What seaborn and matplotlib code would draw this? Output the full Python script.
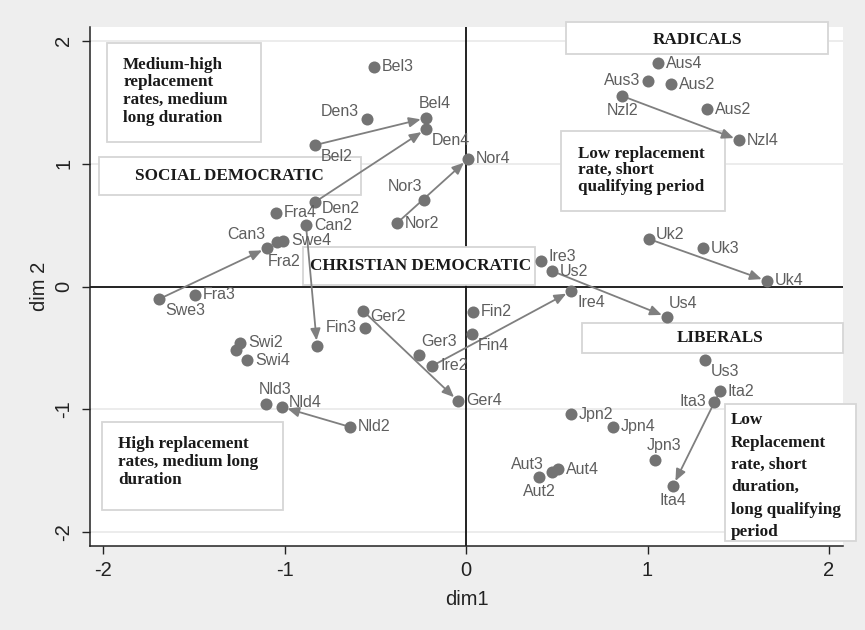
import matplotlib
matplotlib.use('Agg')
import matplotlib.pyplot as plt
from matplotlib.patches import Rectangle
import seaborn as sns
import pandas as pd

# points on the two dimensions
names = ['Bel3', 'Den3', 'Bel4', 'Den4', 'Bel2', 'Nor4', 'Nor3', 'Nor2', 'Den2', 'Fra4',
         'Can2', 'Swe4', 'Fra2', 'Can3', 'Fra3', 'Swe3', 'Ger2', 'Fin3', 'Can4', 'Swi2',
         'Swi3', 'Swi4', 'Ger3', 'Ire2', 'Ger4', 'Nld3', 'Nld4', 'Nld2', 'Ire4', 'Fin2',
         'Fin4', 'Us4', 'Us3', 'Ita2', 'Ita3', 'Ita4', 'Jpn2', 'Jpn4', 'Jpn3', 'Aut2',
         'Aut3', 'Aut4', 'Aus4', 'Aus3', 'Aus2', 'Nzl2', 'Aus2b', 'Nzl4', 'Uk2', 'Uk3',
         'Uk4', 'Ire3', 'Us2']
shown = ['Bel3', 'Den3', 'Bel4', 'Den4', 'Bel2', 'Nor4', 'Nor3', 'Nor2', 'Den2', 'Fra4',
         'Can2', 'Swe4', 'Fra2', 'Can3', 'Fra3', 'Swe3', 'Ger2', 'Fin3', '', 'Swi2',
         '', 'Swi4', 'Ger3', 'Ire2', 'Ger4', 'Nld3', 'Nld4', 'Nld2', 'Ire4', 'Fin2',
         'Fin4', 'Us4', 'Us3', 'Ita2', 'Ita3', 'Ita4', 'Jpn2', 'Jpn4', 'Jpn3', 'Aut2',
         'Aut3', 'Aut4', 'Aus4', 'Aus3', 'Aus2', 'Nzl2', 'Aus2', 'Nzl4', 'Uk2', 'Uk3',
         'Uk4', 'Ire3', 'Us2']
dim1 = [-0.507, -0.545, -0.220, -0.220, -0.832, 0.011, -0.231, -0.380, -0.832, -1.047,
        -0.882, -1.008, -1.041, -1.096, -1.493, -1.691, -0.567, -0.556, -0.821, -1.245,
        -1.267, -1.207, -0.259, -0.187, -0.044, -1.102, -1.014, -0.639, 0.579, 0.039,
        0.033, 1.107, 1.317, 1.399, 1.366, 1.140, 0.579, 0.810, 1.041, 0.402,
        0.474, 0.507, 1.058, 1.003, 1.129, 0.860, 1.328, 1.504, 1.008, 1.306,
        1.658, 0.413, 0.474]
dim2 = [1.785, 1.362, 1.370, 1.280, 1.150, 1.037, 0.703, 0.516, 0.687, 0.598,
        0.500, 0.370, 0.362, 0.313, -0.069, -0.102, -0.199, -0.337, -0.484, -0.459,
        -0.516, -0.598, -0.557, -0.646, -0.931, -0.955, -0.980, -1.142, -0.037, -0.207,
        -0.386, -0.248, -0.598, -0.850, -0.939, -1.622, -1.037, -1.142, -1.411, -1.549,
        -1.508, -1.484, 1.817, 1.671, 1.646, 1.549, 1.443, 1.191, 0.386, 0.313,
        0.045, 0.207, 0.126]
# marker label position (clock)
lab_pos = [3, 10, 12, 5, 5, 3, 11, 3, 4, 3,
           3, 3, 7, 11, 3, 5, 4, 9, 3, 3,
           3, 3, 1, 3, 3, 12, 2, 3, 5, 3,
           5, 1, 5, 3, 9, 6, 3, 3, 12, 6,
           10, 3, 3, 9, 3, 6, 3, 3, 2, 3,
           3, 2, 3]

arrow_from = ['Bel2', 'Den2', 'Nor2', 'Swe3', 'Can2', 'Ger2', 'Ire2', 'Us2', 'Uk2', 'Nzl2', 'Ita2', 'Nld2']
arrow_to = ['Bel4', 'Den4', 'Nor4', 'Can3', 'Can4', 'Ger4', 'Ire4', 'Us4', 'Uk4', 'Nzl4', 'Ita4', 'Nld4']

box_texts = ['Medium-high\nreplacement\nrates, medium\nlong duration',
             'SOCIAL DEMOCRATIC',
             'CHRISTIAN DEMOCRATIC',
             'RADICALS',
             'Low replacement\nrate, short\nqualifying period',
             'LIBERALS',
             'Low\nReplacement\nrate, short\nduration,\nlong qualifying\nperiod',
             'High replacement\nrates, medium long\nduration']

df = pd.DataFrame({'name': names, 'dim1': dim1, 'dim2': dim2})

sns.set_style('white')
plt.rcParams['font.family'] = ['Liberation Sans', 'DejaVu Sans']
plt.rcParams['axes.unicode_minus'] = False

bg = '#eeeeee'
pt_col = '#737373'
lab_col = '#5e5e5e'

fig = plt.figure(figsize=(8.65, 6.3), dpi=100, facecolor=bg)
ax = fig.add_axes([90 / 865, 84 / 630, 753 / 865, 519 / 630])
ax.set_facecolor('white')

# gridlines (horizontal only) and reference lines
for yv in [-2, -1, 1, 2]:
    ax.axhline(yv, color='#ebebeb', lw=1.3, zorder=0)
ax.axhline(0, color='#111111', lw=1.3, zorder=1)
ax.axvline(0, color='#111111', lw=1.3, zorder=1)

# annotation boxes: (x0, y0, x1, y1), text anchor, alignment, line spacing
boxes = [((-1.978, 1.175, -1.129, 1.980), (-1.890, 1.870), 'left', 1.16),
         ((-2.022, 0.744, -0.579, 1.053), (-1.306, 0.898), 'center', 1.0),
         ((-0.898, 0.012, 0.380, 0.321), (-0.253, 0.167), 'center', 1.0),
         ((0.551, 1.890, 1.994, 2.150), (1.273, 2.004), 'center', 1.0),
         ((0.523, 0.614, 1.427, 1.264), (0.617, 1.146), 'left', 1.06),
         ((0.639, -0.541, 2.077, -0.297), (1.399, -0.419), 'center', 1.0),
         ((1.427, -2.069, 2.149, -0.955), (1.460, -1.022), 'left', 1.53),
         ((-2.006, -1.817, -1.008, -1.102), (-1.917, -1.219), 'left', 1.16)]
for (rect, (tx, ty), ha, ls), txt in zip(boxes, box_texts):
    x0, y0, x1, y1 = rect
    ax.add_patch(Rectangle((x0, y0), x1 - x0, y1 - y0, facecolor='white', edgecolor='#d6d6d6',
                           lw=1.3, clip_on=False, zorder=1.5))
    va = 'top' if ha == 'left' else 'center'
    ax.text(tx, ty, txt, ha=ha, va=va, family=['Liberation Serif', 'DejaVu Serif'], weight='bold',
            fontsize=12.3, color='#1a1a1a', linespacing=ls, zorder=4, clip_on=False)

# arrows
idx = {n: i for i, n in enumerate(names)}
for a, b in zip(arrow_from, arrow_to):
    ax.annotate('', xy=(dim1[idx[b]], dim2[idx[b]]), xytext=(dim1[idx[a]], dim2[idx[a]]),
                arrowprops=dict(arrowstyle='-|>,head_length=0.7,head_width=0.3', color='#7f7f7f',
                                lw=1.3, shrinkA=0, shrinkB=4),
                zorder=3)

sns.scatterplot(data=df, x='dim1', y='dim2', s=75, color=pt_col, edgecolor=pt_col, linewidth=0,
                ax=ax, zorder=3)

# marker labels
offs = {3: (8, 0, 'left', 'center'), 9: (-8, 0, 'right', 'center'),
        12: (9, 7, 'center', 'bottom'), 6: (0, -7, 'center', 'top'),
        1: (2, 6, 'left', 'bottom'), 11: (-2, 6, 'right', 'bottom'),
        2: (7, 5, 'left', 'center'), 4: (7, -6, 'left', 'center'),
        5: (6, -4, 'left', 'top'), 7: (-9, -12, 'left', 'top'),
        10: (-8, 7, 'right', 'center')}
for txt, x, y, p in zip(shown, dim1, dim2, lab_pos):
    if not txt:
        continue
    dx, dy, ha, va = offs[p]
    ax.annotate(txt, (x, y), xytext=(dx * 0.72, dy * 0.72), textcoords='offset points',
                ha=ha, va=va, fontsize=11.5, color=lab_col, zorder=4)

ax.set_xlim(-2.072, 2.077)
ax.set_ylim(-2.110, 2.110)
ax.set_xticks([-2, -1, 0, 1, 2])
ax.set_yticks([-2, -1, 0, 1, 2])
ax.set_xlabel('dim1', fontsize=14.5, color='#222222', labelpad=7)
ax.set_ylabel('dim 2', fontsize=14.5, color='#222222', labelpad=4)
ax.tick_params(axis='both', length=6, width=1, color='#222222', labelsize=14.5,
               labelcolor='#222222', direction='out', bottom=True, left=True)
ax.tick_params(axis='x', pad=5)
ax.tick_params(axis='y', pad=6)
for lbl in ax.get_yticklabels():
    lbl.set_rotation(90)
    lbl.set_va('center')

for s in ['top', 'right']:
    ax.spines[s].set_visible(False)
for s in ['left', 'bottom']:
    ax.spines[s].set_color('#222222')
    ax.spines[s].set_linewidth(1.1)

fig.savefig('out.png', dpi=100, facecolor=bg)
